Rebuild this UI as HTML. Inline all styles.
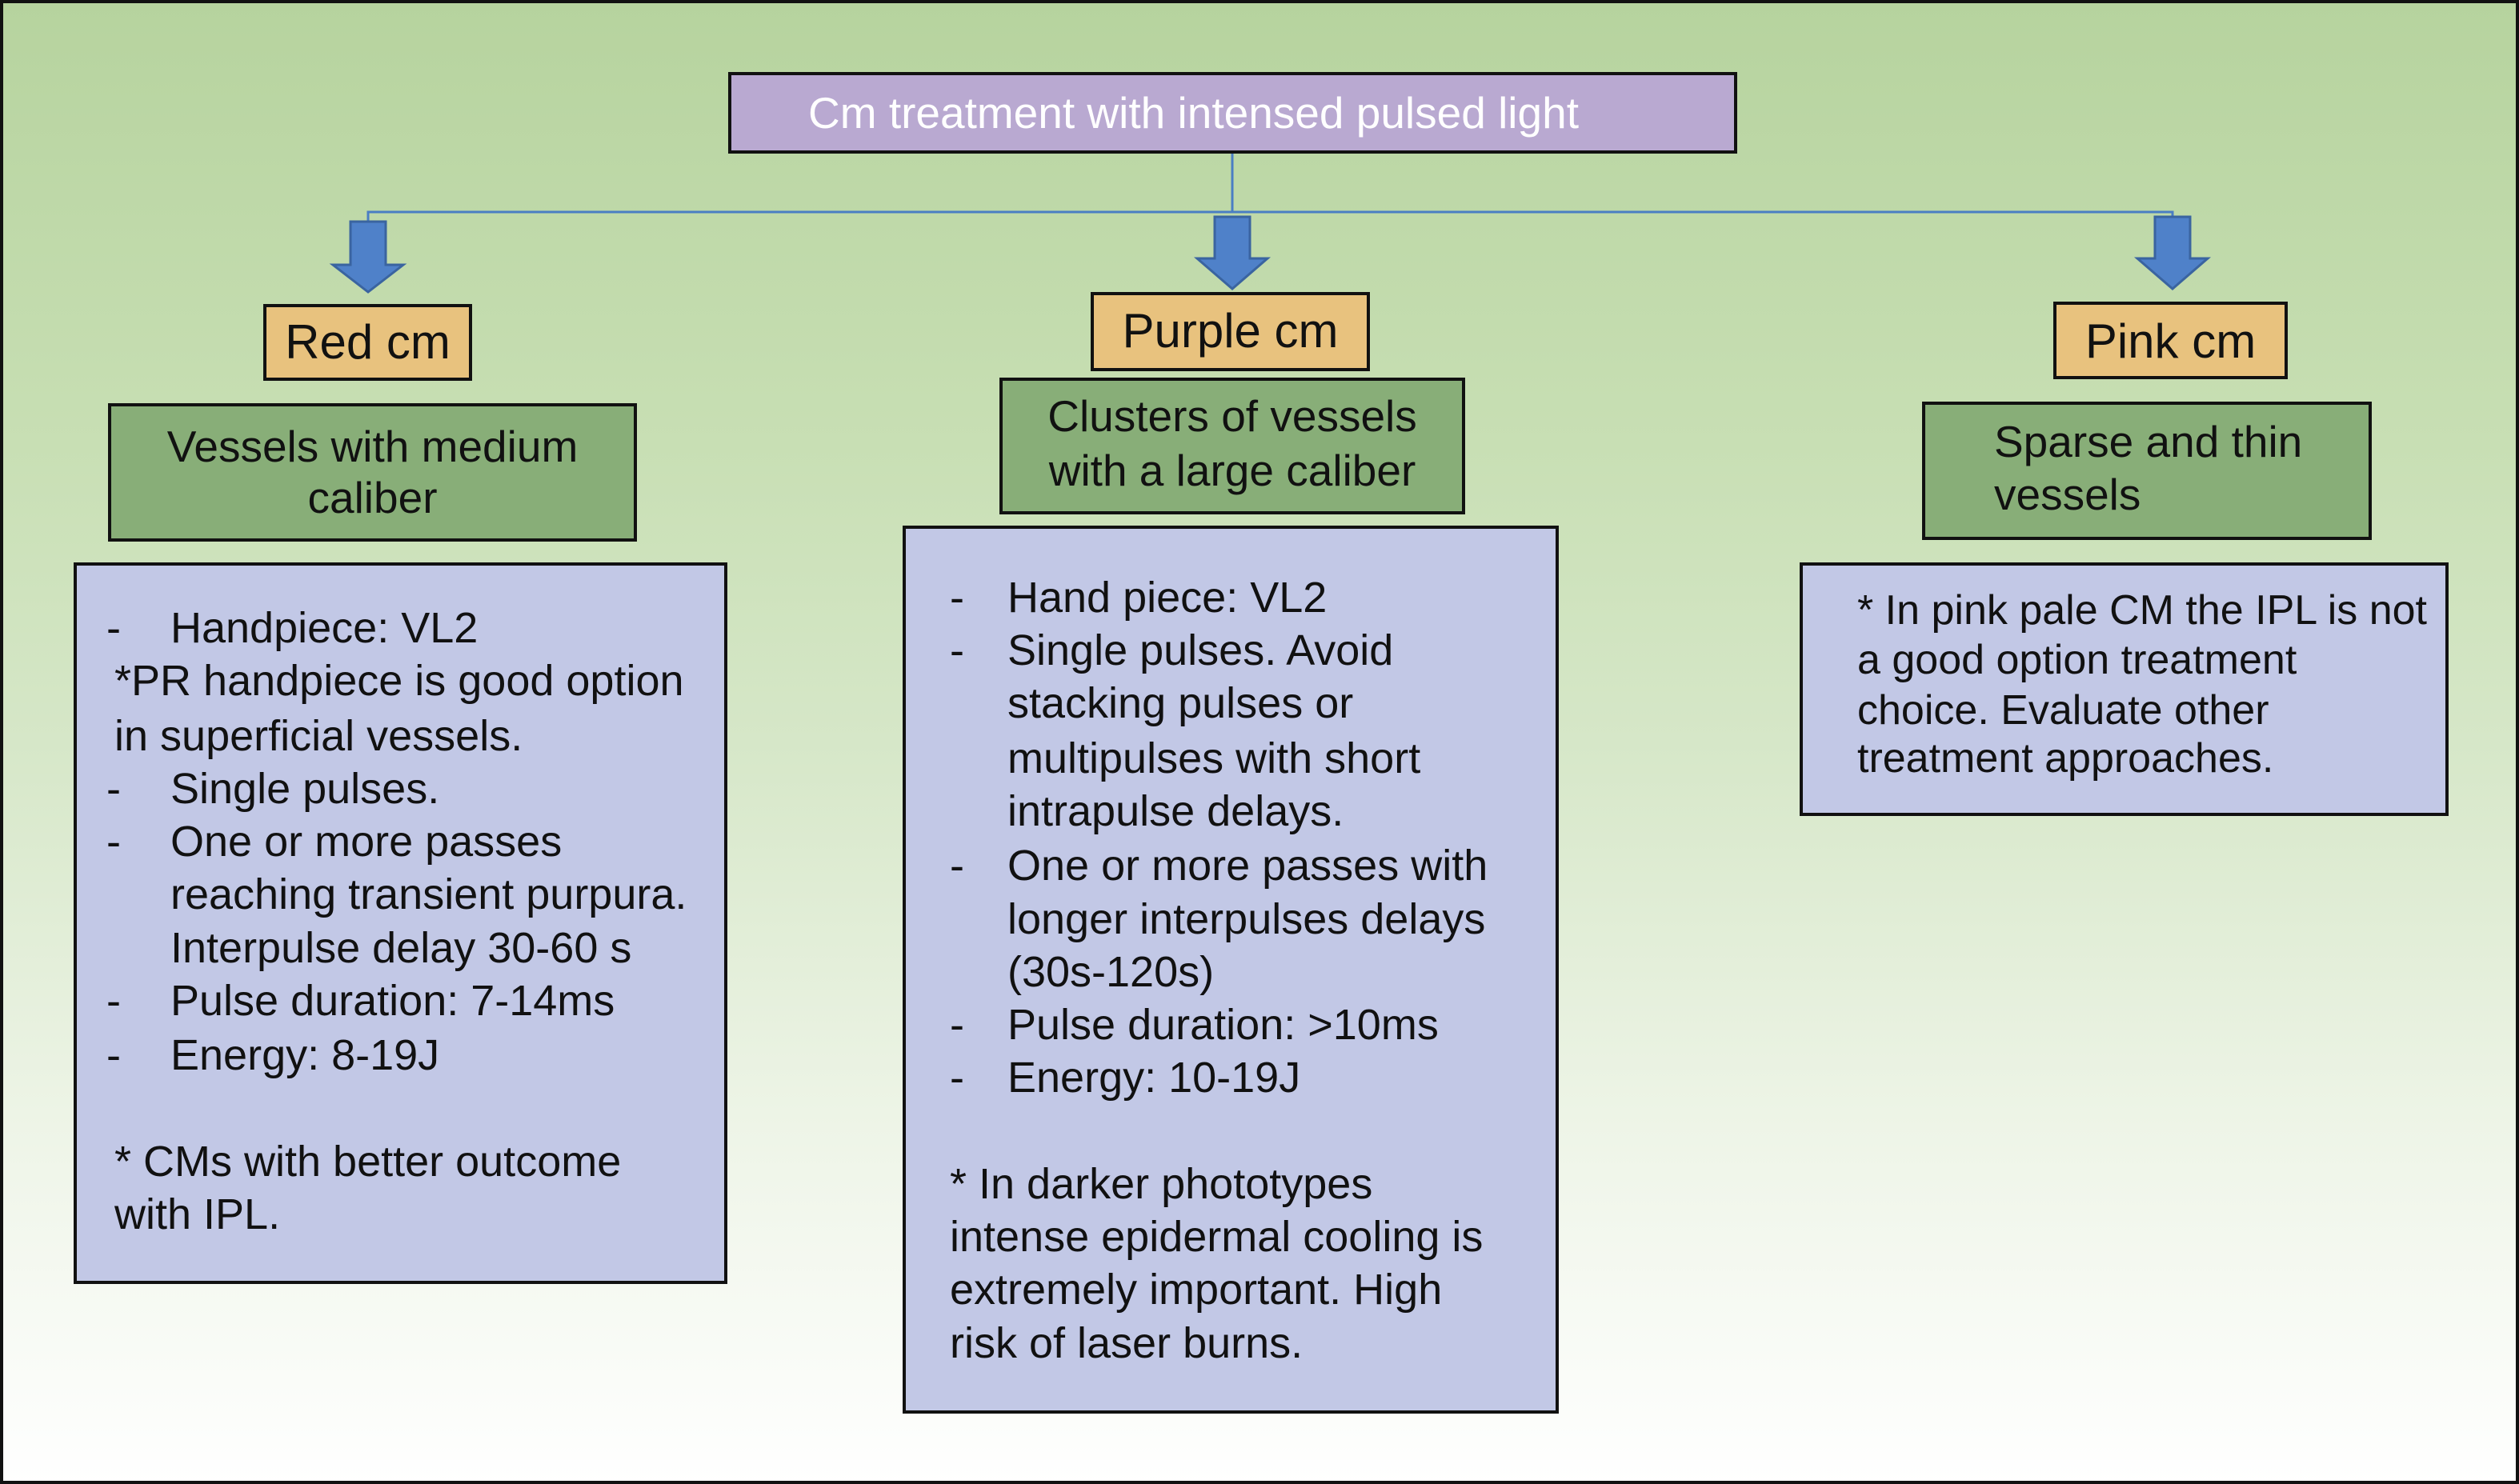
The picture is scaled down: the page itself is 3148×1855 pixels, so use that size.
<!DOCTYPE html>
<html><head><meta charset="utf-8"><style>
*{margin:0;padding:0;box-sizing:border-box}
html,body{width:3148px;height:1855px;overflow:hidden}
body{position:relative;font-family:"Liberation Sans",Arial,sans-serif;color:#111;
background:linear-gradient(to bottom,#b6d39e 0%,#c8dfb4 30%,#d6e7c8 50%,#edf4e6 75%,#ffffff 100%)}
.frame{position:absolute;left:0;top:0;width:3148px;height:1855px;border:4px solid #111}
.b{position:absolute;border:4px solid #111}
.t{position:absolute;white-space:nowrap;line-height:60px;font-size:54px}
.c{text-align:center}
</style></head><body>
<div class="frame"></div>

<div class="b" style="left:910px;top:90px;width:1261px;height:102px;background:#b9a9d1"></div>
<div class="t" style="left:1010px;top:111px;color:#fff;font-size:55px">Cm treatment with intensed pulsed light</div>

<svg style="position:absolute;left:0;top:0" width="3148" height="1855">
<line x1="1540" y1="192" x2="1540" y2="265" stroke="#4a7ec4" stroke-width="3"/>
<polyline points="460,277 460,265 2715,265 2715,277" fill="none" stroke="#4a7ec4" stroke-width="3"/>
<g fill="#4f81c9" stroke="#3a64a0" stroke-width="3">
<polygon points="438,277 482,277 482,331 504,331 460,365 416,331 438,331"/>
<polygon points="1518,271 1562,271 1562,323 1584,323 1540,361 1496,323 1518,323"/>
<polygon points="2693,271 2737,271 2737,323 2759,323 2715,361 2671,323 2693,323"/>
</g>
</svg>

<div class="b" style="left:329px;top:380px;width:261px;height:96px;background:#e8c27e"></div>
<div class="t c" style="left:329px;top:398px;width:261px;font-size:60px">Red cm</div>
<div class="b" style="left:1363px;top:365px;width:349px;height:99px;background:#e8c27e"></div>
<div class="t c" style="left:1363px;top:384px;width:349px;font-size:60px">Purple cm</div>
<div class="b" style="left:2566px;top:377px;width:293px;height:97px;background:#e8c27e"></div>
<div class="t c" style="left:2566px;top:397px;width:293px;font-size:60px">Pink cm</div>

<div class="b" style="left:135px;top:504px;width:661px;height:173px;background:#88ae78"></div>
<div class="t c" style="left:135px;top:528px;width:661px;font-size:55px">Vessels with medium</div>
<div class="t c" style="left:135px;top:592px;width:661px;font-size:55px">caliber</div>
<div class="b" style="left:1249px;top:472px;width:582px;height:171px;background:#88ae78"></div>
<div class="t c" style="left:1249px;top:490px;width:582px;font-size:55px">Clusters of vessels</div>
<div class="t c" style="left:1249px;top:558px;width:582px;font-size:55px">with a large caliber</div>
<div class="b" style="left:2402px;top:502px;width:562px;height:173px;background:#88ae78"></div>
<div class="t" style="left:2492px;top:522px;font-size:55px">Sparse and thin</div>
<div class="t" style="left:2492px;top:588px;font-size:55px">vessels</div>

<div class="b" style="left:92px;top:703px;width:817px;height:902px;background:#c2c8e6"></div>
<div class="t" style="left:133px;top:755px">-</div><div class="t" style="left:213px;top:755px">Handpiece: VL2</div>
<div class="t" style="left:143px;top:821px">*PR handpiece is good option</div>
<div class="t" style="left:143px;top:890px">in superficial vessels.</div>
<div class="t" style="left:133px;top:956px">-</div><div class="t" style="left:213px;top:956px">Single pulses.</div>
<div class="t" style="left:133px;top:1022px">-</div><div class="t" style="left:213px;top:1022px">One or more passes</div>
<div class="t" style="left:213px;top:1088px">reaching transient purpura.</div>
<div class="t" style="left:213px;top:1155px">Interpulse delay 30-60 s</div>
<div class="t" style="left:133px;top:1221px">-</div><div class="t" style="left:213px;top:1221px">Pulse duration: 7-14ms</div>
<div class="t" style="left:133px;top:1289px">-</div><div class="t" style="left:213px;top:1289px">Energy: 8-19J</div>
<div class="t" style="left:143px;top:1422px">* CMs with better outcome</div>
<div class="t" style="left:143px;top:1488px">with IPL.</div>

<div class="b" style="left:1128px;top:657px;width:820px;height:1110px;background:#c2c8e6"></div>
<div class="t" style="left:1187px;top:717px">-</div><div class="t" style="left:1259px;top:717px">Hand piece: VL2</div>
<div class="t" style="left:1187px;top:783px">-</div><div class="t" style="left:1259px;top:783px">Single pulses. Avoid</div>
<div class="t" style="left:1259px;top:849px">stacking pulses or</div>
<div class="t" style="left:1259px;top:918px">multipulses with short</div>
<div class="t" style="left:1259px;top:984px">intrapulse delays.</div>
<div class="t" style="left:1187px;top:1052px">-</div><div class="t" style="left:1259px;top:1052px">One or more passes with</div>
<div class="t" style="left:1259px;top:1119px">longer interpulses delays</div>
<div class="t" style="left:1259px;top:1185px">(30s-120s)</div>
<div class="t" style="left:1187px;top:1251px">-</div><div class="t" style="left:1259px;top:1251px">Pulse duration: &gt;10ms</div>
<div class="t" style="left:1187px;top:1317px">-</div><div class="t" style="left:1259px;top:1317px">Energy: 10-19J</div>
<div class="t" style="left:1187px;top:1450px">* In darker phototypes</div>
<div class="t" style="left:1187px;top:1516px">intense epidermal cooling is</div>
<div class="t" style="left:1187px;top:1582px">extremely important. High</div>
<div class="t" style="left:1187px;top:1649px">risk of laser burns.</div>

<div class="b" style="left:2249px;top:703px;width:811px;height:317px;background:#c2c8e6"></div>
<div class="t" style="left:2321px;top:733px;font-size:52px">* In pink pale CM the IPL is not</div>
<div class="t" style="left:2321px;top:795px;font-size:52px">a good option treatment</div>
<div class="t" style="left:2321px;top:858px;font-size:52px">choice. Evaluate other</div>
<div class="t" style="left:2321px;top:918px;font-size:52px">treatment approaches.</div>
</body></html>
